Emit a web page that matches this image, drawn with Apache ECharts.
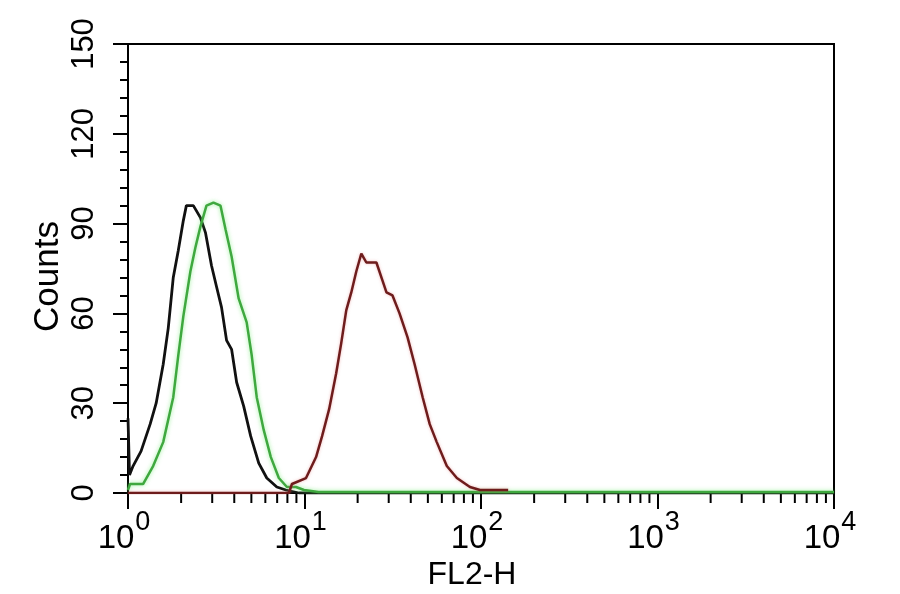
<!DOCTYPE html>
<html>
<head>
<meta charset="utf-8">
<script src="https://cdn.jsdelivr.net/npm/echarts@6/dist/echarts.min.js"></script>
<style>
html,body{margin:0;padding:0;background:#fff;}
#c{width:900px;height:594px;}
</style>
</head>
<body>
<div id="c"></div>
<script>
// ---- data ----
var blackX = [1.0, 1.02, 1.068, 1.186, 1.335, 1.444, 1.583, 1.69, 1.805, 1.927, 2.058, 2.141, 2.346, 2.572, 2.747, 2.972, 3.172, 3.388, 3.618, 3.863, 4.125, 4.522, 4.956, 5.505, 6.113, 6.97, 7.846, 9.304, 10000];
var blackY = [25, 6, 9, 14, 23, 30, 43, 55, 72, 81, 91, 96, 96, 92, 87, 76, 69, 62, 51, 48, 37, 29, 19, 10, 5, 2, 1, 0, 0];

var greenX = [1.0, 1.027, 1.217, 1.388, 1.583, 1.805, 1.927, 2.058, 2.256, 2.409, 2.572, 2.783, 3.05, 3.343, 3.571, 3.863, 4.235, 4.703, 5.022, 5.362, 5.878, 6.445, 7.155, 7.95, 8.945, 9.935, 12, 10000];
var greenY = [1, 3, 3, 9, 17, 32, 46, 59, 74, 82, 89, 96, 97, 96, 88, 79, 65, 57, 46, 32, 21, 12, 5, 2, 2, 1, 0.3, 0.3];

var redX = [1.0, 8.161, 8.489, 10.2, 11.63, 12.58, 13.79, 15.12, 16.14, 17.24, 18.41, 19.65, 20.99, 22.41, 25.55, 27.64, 29.13, 31.52, 34.55, 38.37, 42.06, 46.71, 51.22, 56.15, 64.02, 72.98, 86.55, 98.69, 142.5];
var redY = [0, 0, 3, 5, 12, 19, 28, 40, 50, 61, 67, 74, 80, 77, 77, 71, 67, 66, 60, 52, 43, 32, 23, 17, 9, 5, 2, 1, 1];

var xTickExponents = ['0', '1', '2', '3', '4'];
var xMinorTicks = [2,3,4,5,6,7,8,9,20,30,40,50,60,70,80,90,200,300,400,500,600,700,800,900,2000,3000,4000,5000,6000,7000,8000,9000];
var yTicks = [0, 30, 60, 90, 120, 150];

function zip(xs, ys){ return xs.map(function(x,i){ return [x, ys[i]]; }); }

var NARROW = '"Liberation Sans Narrow", "Arial Narrow", "Liberation Sans", Arial, sans-serif';
var REG = '"Liberation Sans", Arial, sans-serif';

var chart = echarts.init(document.getElementById('c'), null, {renderer:'canvas'});
chart.setOption({
  backgroundColor: '#ffffff',
  animation: false,
  grid: {left: 128, right: 66, top: 44, bottom: 101, show: true, borderColor: '#000', borderWidth: 2, backgroundColor: 'transparent',
         containLabel: false, outerBoundsMode: 'none'},
  xAxis: {
    type: 'log', logBase: 10, min: 1, max: 10000,
    name: 'FL2-H', nameLocation: 'middle', nameGap: 66, nameMoveOverlap: false,
    nameTextStyle: {color: '#000', fontSize: 32, fontFamily: REG, padding: [0, 18, 0, 0]},
    axisLine: {show: true, onZero: false, lineStyle: {color: '#000', width: 2}},
    axisTick: {show: true, length: 16, lineStyle: {color: '#000', width: 2}},
    splitLine: {show: false},
    axisLabel: {
      margin: 22, color: '#000', fontFamily: NARROW,
      formatter: function(v){
        var e = Math.round(Math.log10(v));
        return '{b|10}{s|' + xTickExponents[e] + '}';
      },
      rich: {
        b: {fontSize: 33, fontFamily: NARROW, color: '#000', verticalAlign: 'bottom', lineHeight: 40},
        s: {fontSize: 27, fontFamily: NARROW, color: '#000', verticalAlign: 'bottom', lineHeight: 40, padding: [0, 8, 19, 1]}
      }
    }
  },
  yAxis: {
    type: 'value', min: yTicks[0], max: yTicks[yTicks.length-1], interval: 30,
    name: 'Counts', nameLocation: 'middle', nameGap: 62, nameRotate: 90, nameMoveOverlap: false,
    nameTextStyle: {color: '#000', fontSize: 35, fontFamily: REG, padding: [0, 16, 0, 0]},
    axisLine: {show: true, lineStyle: {color: '#000', width: 2}},
    axisTick: {show: true, length: 15, lineStyle: {color: '#000', width: 2}},
    minorTick: {show: true, splitNumber: 5, length: 8, lineStyle: {color: '#000', width: 2}},
    splitLine: {show: false},
    axisLabel: {rotate: 90, margin: 28, color: '#000', fontSize: 31, fontFamily: REG}
  },
  series: [
    {
      type: 'custom', silent: true, clip: false, z: 1,
      data: xMinorTicks.map(function(v){ return [v, 0]; }),
      renderItem: function(params, api){
        var p = api.coord([api.value(0), 0]);
        return {type: 'line', shape: {x1: p[0], y1: p[1], x2: p[0], y2: p[1] + 10}, style: {stroke: '#000', lineWidth: 2}};
      }
    },
    {type: 'line', data: zip(blackX, blackY), showSymbol: false, symbol: 'none', z: 3,
      lineStyle: {color: '#111', width: 2.8}},
    {type: 'line', data: zip(greenX, greenY), showSymbol: false, symbol: 'none', z: 4,
      lineStyle: {color: '#3fa83f', width: 2.5, shadowColor: 'rgba(90,230,90,0.6)', shadowBlur: 4}},
    {type: 'line', data: zip(redX, redY), showSymbol: false, symbol: 'none', z: 5,
      lineStyle: {color: '#6e1c1c', width: 2.5, shadowColor: 'rgba(230,120,120,0.5)', shadowBlur: 3}}
  ]
});
</script>
</body>
</html>
